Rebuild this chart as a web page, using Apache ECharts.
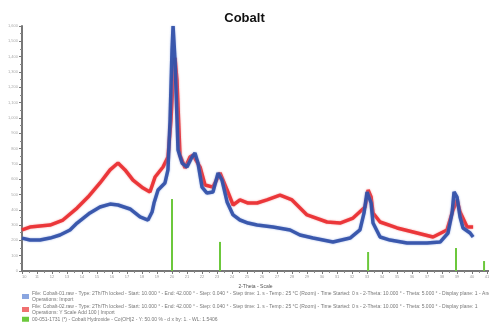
<!DOCTYPE html>
<html>
<head>
<meta charset="utf-8">
<script src="https://cdn.jsdelivr.net/npm/echarts@6/dist/echarts.min.js"></script>
<style>
  html, body { margin: 0; background: #fff; }
  #chart { width: 489px; height: 322px; }
</style>
</head>
<body>
<div id="chart"></div>
<script>
// 2-Theta (deg), Lin (Counts)
const blueScan = [
  [10.0,215],[10.53,202],[11.2,202],[11.87,215],[12.53,235],[13.2,268],[13.67,313],[14.53,379],
  [15.2,418],[15.87,437],[16.4,431],[17.2,405],[17.87,353],[18.4,333],[18.67,385],[18.8,444],
  [19.07,529],[19.53,575],[19.73,660],[19.87,986],[20.0,1443],[20.07,1600],[20.2,1378],[20.4,790],
  [20.67,705],[21.0,679],[21.33,744],[21.53,770],[21.73,705],[22.0,548],[22.33,509],[22.73,516],
  [23.07,640],[23.33,594],[23.67,451],[24.07,366],[24.53,333],[25.07,313],[25.67,300],[26.73,287],
  [27.87,268],[28.53,235],[29.4,215],[30.73,189],[31.87,215],[32.53,268],[32.8,379],[33.0,516],
  [33.07,529],[33.27,444],[33.4,313],[33.87,222],[34.53,202],[35.67,183],[37.0,183],[37.87,189],
  [38.4,248],[38.67,379],[38.8,516],[39.0,483],[39.2,353],[39.4,281],[39.87,248],[40.07,222]
];
const redScan = [
  [10.0,268],[10.53,287],[11.87,300],[12.73,333],[13.67,411],[14.4,483],[15.2,575],[15.87,660],
  [16.4,705],[16.87,660],[17.4,594],[18.07,542],[18.53,516],[18.87,614],[19.4,679],[19.73,744],
  [19.93,986],[20.07,1247],[20.2,1391],[20.33,1247],[20.53,757],[20.87,673],[21.2,744],[21.4,757],
  [21.87,679],[22.2,562],[22.73,548],[23.2,640],[23.67,529],[24.07,431],[24.53,464],[25.07,444],
  [25.67,444],[26.33,464],[27.2,496],[28.0,464],[29.0,366],[30.33,320],[31.2,313],[32.07,346],
  [32.87,418],[33.07,529],[33.27,483],[33.4,379],[33.87,320],[35.0,281],[36.07,255],[37.4,222],
  [38.33,268],[38.73,398],[39.0,464],[39.2,385],[39.67,287],[40.07,287]
];
const refPeaks = [[20.0,470],[23.2,190],[33.07,124],[38.93,150],[40.8,65]];

const xRange = [10, 41.13];
const yRange = [0, 1600];

const names = [
  'File: Cobalt-01.raw - Type: 2Th/Th locked - Start: 10.000 ° - End: 42.000 ° - Step: 0.040 ° - Step time: 1. s - Temp.: 25 °C (Room) - Time Started: 0 s - 2-Theta: 10.000 ° - Theta: 5.000 ° - Display plane: 1 - Anode: Cu\nOperations: Import',
  'File: Cobalt-02.raw - Type: 2Th/Th locked - Start: 10.000 ° - End: 42.000 ° - Step: 0.040 ° - Step time: 1. s - Temp.: 25 °C (Room) - Time Started: 0 s - 2-Theta: 10.000 ° - Theta: 5.000 ° - Display plane: 1\nOperations: Y Scale Add 100 | Import',
  '00-051-1731 (*) - Cobalt Hydroxide - Co(OH)2 - Y: 50.00 % - d x by: 1. - WL: 1.5406'
];

const chart = echarts.init(document.getElementById('chart'));
chart.setOption({
  animation: false,
  textStyle: { fontFamily: 'Liberation Sans' },
  title: {
    text: 'Cobalt', left: 'center', top: 7,
    textStyle: { fontSize: 13, fontWeight: 'bold', color: '#111', fontFamily: 'Liberation Sans' }
  },
  grid: { left: 22, right: 0, top: 26, bottom: 51, containLabel: false, outerBoundsMode: 'none' },
  legend: {
    orient: 'vertical', left: 22, top: 290, itemGap: 0,
    itemWidth: 7, itemHeight: 5, icon: 'rect', padding: 0,
    textStyle: { fontSize: 5, color: '#777', lineHeight: 6.5, padding: [0, 0, 0, -2] },
    data: names
  },
  xAxis: {
    type: 'value', min: xRange[0], max: xRange[1], interval: 1,
    name: '2-Theta - Scale', nameLocation: 'middle', nameGap: 12,
    nameTextStyle: { fontSize: 5, color: '#555' },
    axisLine: { lineStyle: { color: '#777', width: 2 } },
    axisTick: { length: 3, lineStyle: { color: '#777' } },
    minorTick: { show: true, splitNumber: 2, length: 2, lineStyle: { color: '#888' } },
    axisLabel: { fontSize: 4, color: '#999', margin: 4, alignMinLabel: 'left', showMaxLabel: false },
    splitLine: { show: false }
  },
  yAxis: {
    type: 'value', min: yRange[0], max: yRange[1], interval: 100,
    name: 'Lin (Counts)', nameLocation: 'middle', nameGap: 14,
    nameTextStyle: { fontSize: 5, color: '#555' },
    axisLine: { show: true, lineStyle: { color: '#777', width: 2 } },
    axisTick: { show: true, length: 3, lineStyle: { color: '#777' } },
    minorTick: { show: true, splitNumber: 2, length: 2, lineStyle: { color: '#888' } },
    axisLabel: { fontSize: 4, color: '#aaa', margin: 4 },
    splitLine: { show: false }
  },
  series: [
    {
      name: names[0], type: 'line', data: blueScan, symbol: 'none', z: 3,
      lineStyle: { color: '#2f4ea6', width: 3.5, opacity: 0.9, shadowColor: 'rgba(120,150,220,0.8)', shadowBlur: 2 },
      itemStyle: { color: '#8aa6e0', borderColor: '#4a68b8' }
    },
    {
      name: names[1], type: 'line', data: redScan, symbol: 'none', z: 2,
      lineStyle: { color: '#ea2a2e', width: 3.5, opacity: 0.9, shadowColor: 'rgba(240,120,120,0.8)', shadowBlur: 2 },
      itemStyle: { color: '#f07070', borderColor: '#d83030' }
    },
    {
      name: names[2], type: 'bar', data: refPeaks, barWidth: 2, z: 1,
      itemStyle: { color: '#6cc83c' }
    }
  ]
});
</script>
</body>
</html>
